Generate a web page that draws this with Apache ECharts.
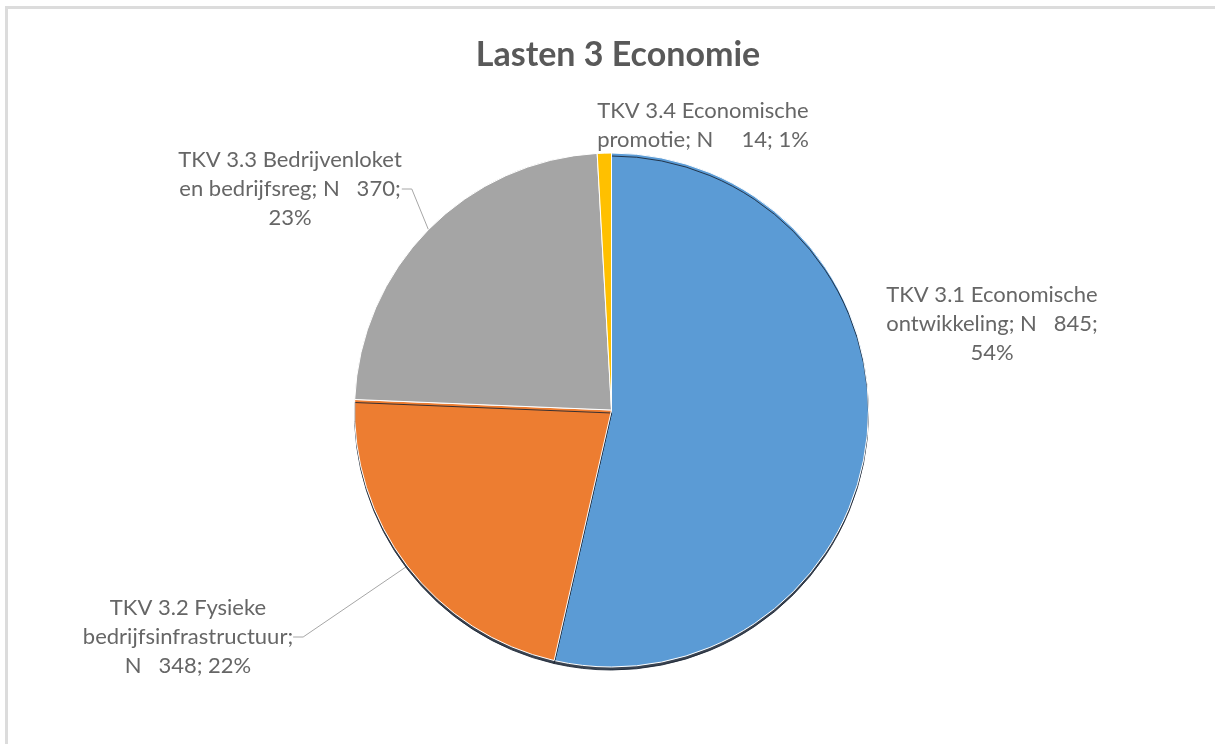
<!DOCTYPE html>
<html>
<head>
<meta charset="utf-8">
<script src="https://cdn.jsdelivr.net/npm/echarts@6/dist/echarts.min.js"></script>
<style>
  html, body { margin: 0; padding: 0; background: #fff; }
  #frame { position: absolute; left: 5px; top: 6px; width: 1210px; height: 738px;
           border-top: 3px solid #dcdcdc; border-left: 3px solid #dcdcdc; box-sizing: border-box; }
  #chart { position: absolute; left: 0; top: 0; width: 1215px; height: 744px; }
</style>
</head>
<body>
<div id="frame"></div>
<div id="chart"></div>
<script>
const title = 'Lasten 3 Economie';
const categories = [
  'TKV 3.1 Economische ontwikkeling',
  'TKV 3.2 Fysieke bedrijfsinfrastructuur',
  'TKV 3.3 Bedrijvenloket en bedrijfsreg',
  'TKV 3.4 Economische promotie'
];
const labelTexts = [
  'TKV 3.1 Economische\nontwikkeling; N   845;\n54%',
  'TKV 3.2 Fysieke\nbedrijfsinfrastructuur;\nN   348; 22%',
  'TKV 3.3 Bedrijvenloket\nen bedrijfsreg; N   370;\n23%',
  'TKV 3.4 Economische\npromotie; N     14; 1%'
];
const values = [845, 348, 370, 14];
const colors = ['#5B9BD5', '#ED7D31', '#A5A5A5', '#FFC000'];

const chart = echarts.init(document.getElementById('chart'), null, { renderer: 'canvas' });

const labelPos = [
  { x: 992, y: 324 },
  { x: 188, y: 637 },
  { x: 290, y: 189 },
  { x: 703, y: 125 }
];
const showLine = [false, true, true, false];
const hasShadow = [true, true, false, false];

chart.setOption({
  animation: false,
  backgroundColor: 'transparent',
  title: {
    text: title,
    left: 613,
    textAlign: 'center',
    top: 33,
    textStyle: { fontFamily: 'Lato', fontSize: 34, fontWeight: 'bold', color: '#595959' }
  },
  series: [{
    type: 'pie',
    center: [611.5, 410],
    radius: 257,
    startAngle: 90,
    clockwise: true,
    avoidLabelOverlap: false,
    data: values.map((v, i) => ({
      name: categories[i],
      value: v,
      itemStyle: hasShadow[i]
        ? { color: colors[i], shadowColor: 'rgba(25,35,50,0.85)', shadowBlur: 0.01, shadowOffsetY: 3 }
        : { color: colors[i] },
      label: { formatter: labelTexts[i] },
      labelLine: { show: showLine[i] }
    })),
    itemStyle: {
      borderColor: '#ffffff',
      borderWidth: 1
    },
    label: {
      show: true,
      position: 'outside',
      fontFamily: 'Lato',
      fontSize: 22,
      lineHeight: 29,
      color: '#666666',
      align: 'center'
    },
    labelLine: {
      show: true,
      length: 10,
      length2: 10,
      lineStyle: { color: '#a6a6a6', width: 1 }
    },
    labelLayout: function (params) {
      const p = labelPos[params.dataIndex];
      return { x: p.x, y: p.y, align: 'center', verticalAlign: 'middle' };
    }
  }]
});
</script>
</body>
</html>
